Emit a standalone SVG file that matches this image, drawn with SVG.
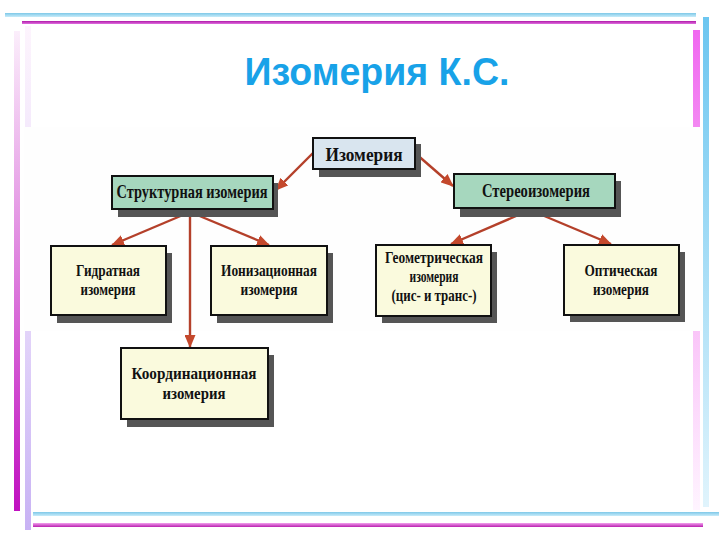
<svg xmlns="http://www.w3.org/2000/svg" width="720" height="540" viewBox="0 0 720 540">
<defs>
<linearGradient id="gLM" x1="0" y1="0" x2="0" y2="1"><stop offset="0" stop-color="#fbeefb"/><stop offset="1" stop-color="#c010c0"/></linearGradient>
<linearGradient id="gLL" x1="0" y1="0" x2="0" y2="1"><stop offset="0" stop-color="#fdf4fd"/><stop offset="0.55" stop-color="#e6d8fa"/><stop offset="1" stop-color="#c8b2f4"/></linearGradient>
<linearGradient id="gRM" x1="0" y1="0" x2="0" y2="1"><stop offset="0" stop-color="#f068f0"/><stop offset="0.4" stop-color="#f6a8f4"/><stop offset="1" stop-color="#fff4ff"/></linearGradient>
<linearGradient id="gRC" x1="0" y1="0" x2="0" y2="1"><stop offset="0" stop-color="#6cc6f0"/><stop offset="1" stop-color="#e0f4fc"/></linearGradient>
<linearGradient id="gHC" x1="0" y1="0" x2="0" y2="1"><stop offset="0" stop-color="#7ec8e8"/><stop offset="1" stop-color="#c8ecfa"/></linearGradient>
<linearGradient id="gHM" x1="0" y1="0" x2="0" y2="1"><stop offset="0" stop-color="#f2a0ee"/><stop offset="1" stop-color="#b820b0"/></linearGradient>
<linearGradient id="gTM" x1="0" y1="0" x2="0" y2="1"><stop offset="0" stop-color="#b01aa8"/><stop offset="1" stop-color="#e070e0"/></linearGradient>
<marker id="ah" markerUnits="userSpaceOnUse" markerWidth="13" markerHeight="11" refX="12" refY="5.5" orient="auto">
<path d="M0,0 L13,5.5 L0,11 z" fill="#c4482c"/>
</marker>
<style>
.box{stroke:#111;stroke-width:2}
.sh{fill:#555}
.top{fill:#d9e5ef}
.mid{fill:#a6d7be}
.leaf{fill:#fafadd}
.t{font-family:"Liberation Serif","Times New Roman",serif;font-weight:bold;font-size:19px;fill:#111;text-anchor:middle}
.s{font-family:"Liberation Serif","Times New Roman",serif;font-weight:bold;font-size:16.5px;fill:#111;text-anchor:middle}
.c{stroke:#b4402a;stroke-width:2.4;fill:none;marker-end:url(#ah)}
</style>
</defs>
<rect width="720" height="540" fill="#fff"/>
<!-- frame -->
<rect x="5" y="13" width="691" height="4" fill="url(#gHC)"/>
<rect x="22" y="21" width="674" height="3" fill="url(#gTM)"/>
<rect x="14" y="31" width="6" height="480" fill="url(#gLM)"/>
<rect x="25" y="26" width="6" height="504" fill="url(#gLL)"/>
<rect x="693" y="30" width="7" height="480" fill="url(#gRM)"/>
<rect x="703" y="17" width="6" height="490" fill="url(#gRC)"/>
<rect x="33" y="512" width="686" height="4" fill="url(#gHC)"/>
<rect x="33" y="523" width="670" height="4" fill="url(#gHM)"/>
<!-- embedded diagram background -->
<rect x="24" y="127" width="678" height="204" fill="#fefefe"/>
<text x="377" y="85" font-family="'Liberation Sans',Arial,sans-serif" font-weight="bold" font-size="39" fill="#18a2e8" text-anchor="middle" textLength="265" lengthAdjust="spacingAndGlyphs">Изомерия К.С.</text>
<g id="connectors">
<line class="c" x1="313" y1="153" x2="276" y2="190"/>
<line class="c" x1="415" y1="153" x2="453" y2="186"/>
<line class="c" x1="190" y1="212" x2="112" y2="245"/>
<line class="c" x1="190" y1="212" x2="269" y2="245"/>
<line class="c" x1="190" y1="211" x2="190" y2="347"/>
<line class="c" x1="530" y1="210" x2="451" y2="244"/>
<line class="c" x1="530" y1="210" x2="611" y2="244"/>
</g>
<g id="n-izomeria">
<rect class="sh" x="319" y="144" width="102" height="33"/>
<rect class="box top" x="313" y="138" width="102" height="31"/>
<text class="t" x="364" y="161" textLength="77" lengthAdjust="spacingAndGlyphs">Изомерия</text>
</g>
<g id="n-struct">
<rect class="sh" x="118" y="183" width="160" height="34"/>
<rect class="box mid" x="112" y="176" width="161" height="33"/>
<text class="t" x="192" y="198" textLength="151" lengthAdjust="spacingAndGlyphs">Структурная изомерия</text>
</g>
<g id="n-stereo">
<rect class="sh" x="460" y="181" width="161" height="36"/>
<rect class="box mid" x="454" y="174" width="161" height="34"/>
<text class="t" x="536" y="197" textLength="108" lengthAdjust="spacingAndGlyphs">Стереоизомерия</text>
</g>
<g id="n-hydrate">
<rect class="sh" x="57" y="253" width="115" height="70"/>
<rect class="box leaf" x="51" y="246" width="115" height="69"/>
<text class="s" x="108" y="276" textLength="64" lengthAdjust="spacingAndGlyphs">Гидратная</text>
<text class="s" x="108" y="295" textLength="55" lengthAdjust="spacingAndGlyphs">изомерия</text>
</g>
<g id="n-ion">
<rect class="sh" x="217" y="253" width="116" height="70"/>
<rect class="box leaf" x="211" y="246" width="116" height="69"/>
<text class="s" x="269" y="276" textLength="96" lengthAdjust="spacingAndGlyphs">Ионизационная</text>
<text class="s" x="269" y="295" textLength="57" lengthAdjust="spacingAndGlyphs">изомерия</text>
</g>
<g id="n-coord">
<rect class="sh" x="127" y="355" width="147" height="72"/>
<rect class="box leaf" x="121" y="348" width="147" height="71"/>
<text class="s" x="194" y="379" textLength="125" lengthAdjust="spacingAndGlyphs">Координационная</text>
<text class="s" x="194" y="399" textLength="63" lengthAdjust="spacingAndGlyphs">изомерия</text>
</g>
<g id="n-geom">
<rect class="sh" x="382" y="252" width="115" height="71"/>
<rect class="box leaf" x="376" y="245" width="115" height="71"/>
<text class="s" x="434" y="263" textLength="98" lengthAdjust="spacingAndGlyphs">Геометрическая</text>
<text class="s" x="434" y="282" textLength="49" lengthAdjust="spacingAndGlyphs">изомерия</text>
<text class="s" x="434" y="301" textLength="85" lengthAdjust="spacingAndGlyphs">(цис- и транс-)</text>
</g>
<g id="n-optic">
<rect class="sh" x="570" y="252" width="115" height="70"/>
<rect class="box leaf" x="564" y="245" width="115" height="70"/>
<text class="s" x="621" y="276" textLength="73" lengthAdjust="spacingAndGlyphs">Оптическая</text>
<text class="s" x="621" y="295" textLength="56" lengthAdjust="spacingAndGlyphs">изомерия</text>
</g>
</svg>
